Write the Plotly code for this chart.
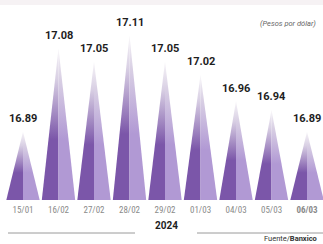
import plotly.graph_objects as go

dates = ["15/01", "16/02", "27/02", "28/02", "29/02", "01/03", "04/03", "05/03", "06/03"]
values = [16.89, 17.08, 17.05, 17.11, 17.05, 17.02, 16.96, 16.94, 16.89]
year_label = "2024"
unit_label = "(Pesos por dólar)"
source_label = "Fuente/<b>Banxico</b>"

base = 16.735
hw = 0.47
dark = "#7b56a9"
light = "#b199d4"

fig = go.Figure()
for i, v in enumerate(values):
    for side, col in ((-1, dark), (1, light)):
        xs = [i + side * hw, i, i, i + side * hw]
        ys = [base, v, base, base]
        fig.add_trace(go.Scatter(
            x=xs, y=ys, mode="lines", line=dict(width=0), fill="toself",
            fillgradient=dict(type="vertical", start=base, stop=v,
                              colorscale=[[0, col], [0.4, col], [0.8, "#d9d0e4"], [1, "#f7f5f8"]]),
            hoverinfo="skip", showlegend=False))

ticktext = [d if i < len(dates) - 1 else f"<b>{d}</b>" for i, d in enumerate(dates)]

annotations = [
    dict(text=f"{v:.2f}", x=i, y=v, xref="x", yref="y", yanchor="middle", yshift=13,
         showarrow=False, font=dict(family="Roboto", size=11, color="#1e1e1e", weight="bold"))
    for i, v in enumerate(values)
]
annotations += [
    dict(text=f"<b>{year_label}</b>", x=166/323, y=-33/200, xref="paper", yref="paper",
         showarrow=False, font=dict(family="Roboto", size=10, color="#1e1e1e")),
    dict(text=f"<i>{unit_label}</i>", x=258/323, y=1 - 17/200, xref="paper", yref="paper",
         xanchor="left", showarrow=False, font=dict(family="Roboto", size=7.5, color="#666")),
    dict(text=source_label, x=262/323, y=-38/200, xref="paper", yref="paper",
         xanchor="left", yanchor="middle", showarrow=False,
         font=dict(family="Roboto", size=7.5, color="#333")),
]

fig.update_layout(
    width=323, height=244, margin=dict(l=0, r=0, t=0, b=44, autoexpand=False),
    paper_bgcolor="white", plot_bgcolor="white",
    xaxis=dict(range=[-0.648, 8.45], showgrid=False, zeroline=False, showline=False,
               automargin=False,
               tickvals=list(range(len(dates))), ticktext=ticktext, ticks="",
               tickfont=dict(family="Roboto Condensed, Roboto", size=9, color="#8a8a8a"),
               ticklabelstandoff=3),
    yaxis=dict(range=[base, 17.19], visible=False, automargin=False),
    shapes=[
        dict(type="rect", xref="paper", yref="paper", x0=0, x1=1, y0=1 - 5/200, y1=1.05,
             fillcolor="#f6f2f4", line=dict(width=0), layer="below"),
        dict(type="line", xref="paper", yref="paper", x0=8/323, x1=135/323,
             y0=-33/200, y1=-33/200, line=dict(color="#9a9a9a", width=1)),
        dict(type="line", xref="paper", yref="paper", x0=197/323, x1=1,
             y0=-33/200, y1=-33/200, line=dict(color="#9a9a9a", width=1)),
    ],
    annotations=annotations,
)

fig.write_html("out.html", config={"displayModeBar": False},
               post_script="document.body.style.margin='0';document.body.style.overflow='hidden';")
